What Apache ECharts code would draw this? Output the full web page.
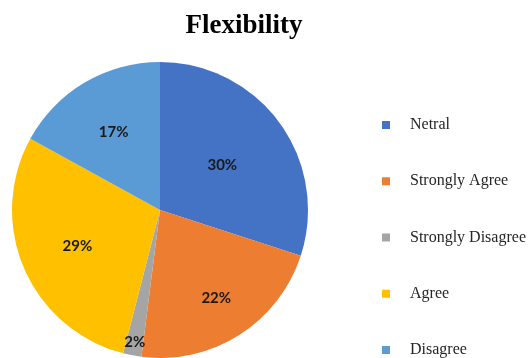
<!DOCTYPE html>
<html>
<head>
<meta charset="utf-8">
<script src="https://cdn.jsdelivr.net/npm/echarts@6/dist/echarts.min.js"></script>
<style>html,body{margin:0;padding:0;background:#fff}#c{width:529px;height:358px}</style>
</head>
<body>
<div id="c"></div>
<script>
const titleText = 'Flexibility';
const categories = ['Netral', 'Strongly Agree', 'Strongly Disagree', 'Agree', 'Disagree'];
const values = [30, 22, 2, 29, 17];

// styling (not data)
const colors = ['#4472C4', '#ED7D31', '#A5A5A5', '#FFC000', '#5B9BD5'];
const PIE_CENTER = [160, 210];
const PIE_R = 148;
const labelDist = { 'Netral': 74, 'Strongly Agree': 102, 'Strongly Disagree': 132, 'Agree': 87, 'Disagree': 88 };

const chart = echarts.init(document.getElementById('c'));
const labelStyle = { fontFamily: 'Lato', fontWeight: 'bold', fontSize: 15, color: '#1a1a1a', formatter: '{c}%' };

function labelSeries(target) {
  return {
    type: 'pie', center: PIE_CENTER, radius: [0, labelDist[target] * 2], startAngle: 90, clockwise: true,
    silent: true, legendHoverLink: false, z: 5,
    labelLine: { show: false },
    emphasis: { disabled: true },
    data: categories.map((n, i) => ({
      name: n, value: values[i],
      itemStyle: { color: 'rgba(0,0,0,0)', borderWidth: 0 },
      label: Object.assign({ show: n === target, position: 'inside' }, labelStyle)
    }))
  };
}

chart.setOption({
  animation: false,
  title: {
    text: titleText, left: 239, top: 8, textAlign: 'center',
    textStyle: { fontFamily: 'Liberation Serif', fontWeight: 'bold', fontSize: 27, color: '#000' }
  },
  legend: {
    orient: 'vertical', left: 382, top: 117, padding: 0, height: 260,
    icon: 'rect', itemWidth: 8, itemHeight: 8, itemGap: 40.25,
    data: categories,
    textStyle: { fontFamily: 'Liberation Serif', fontSize: 16, color: '#262626', padding: [0, 0, 0, 15] }
  },
  series: [
    {
      type: 'pie', center: PIE_CENTER, radius: [0, PIE_R], startAngle: 90, clockwise: true,
      label: { show: false }, labelLine: { show: false },
      itemStyle: { borderWidth: 0 },
      emphasis: { disabled: true },
      data: categories.map((n, i) => ({ name: n, value: values[i], itemStyle: { color: colors[i] } }))
    }
  ].concat(categories.map(labelSeries))
});
</script>
</body>
</html>
